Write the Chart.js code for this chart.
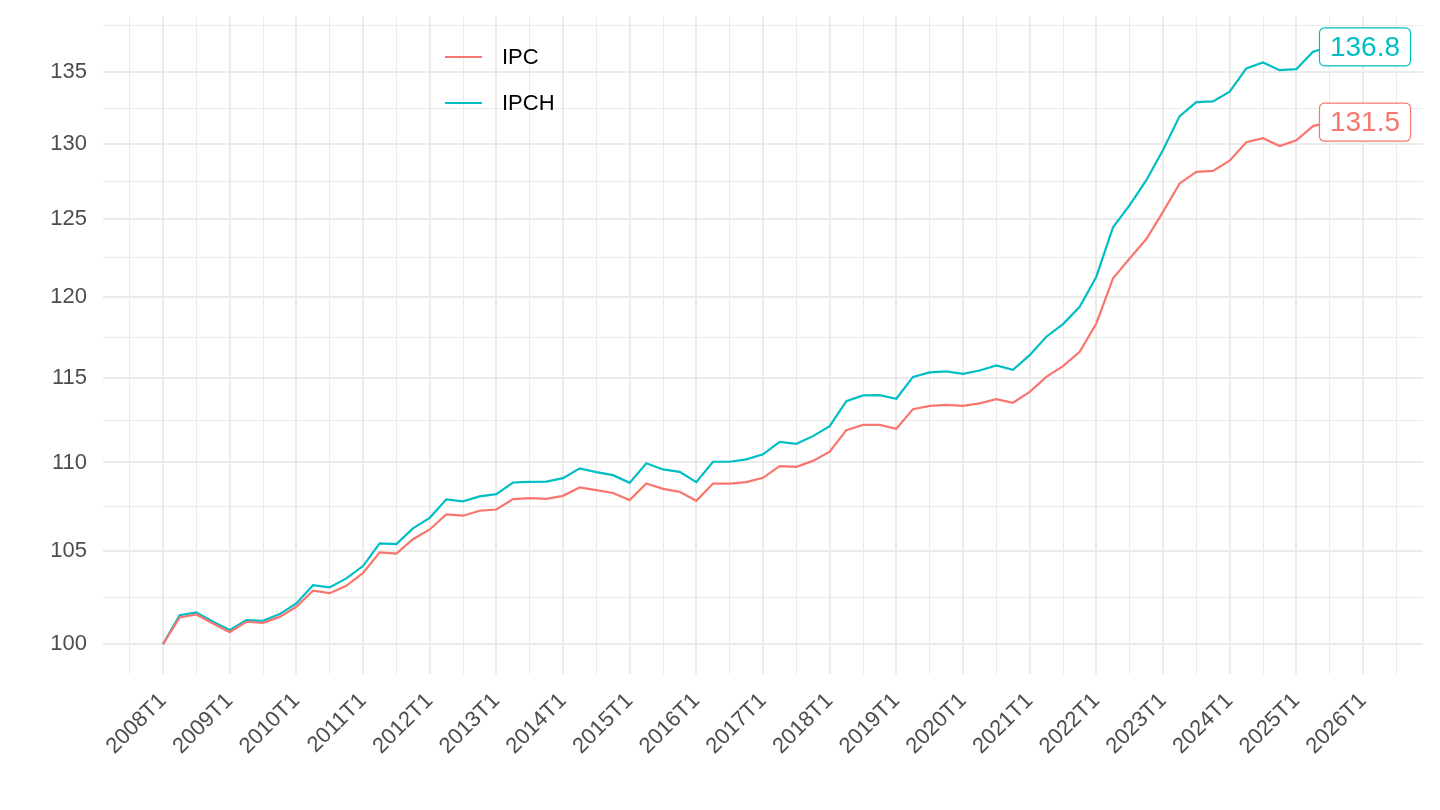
<!DOCTYPE html>
<html>
<head>
<meta charset="utf-8">
<title>IPC / IPCH</title>
<script src="https://cdn.jsdelivr.net/npm/chart.js@4.4.1/dist/chart.umd.min.js"></script>
<style>
    html, body { margin: 0; padding: 0; background: #ffffff; }
    #chart { display: block; }
</style>
</head>
<body>
<canvas id="chart" width="1440" height="810"></canvas>
<script>
// Indices base 100 = 2008T1, one value per quarter (2008T1 .. 2025T3)
var seriesNames = ['IPC', 'IPCH'];
var seriesColors = ['#F8766D', '#00BFC4'];

var ipc = [
    100.00, 101.41, 101.57, 101.09, 100.63, 101.18, 101.12, 101.44,
    101.98, 102.84, 102.71, 103.11, 103.81, 104.93, 104.87, 105.66,
    106.20, 107.04, 106.97, 107.25, 107.32, 107.91, 107.96, 107.92,
    108.09, 108.57, 108.42, 108.25, 107.85, 108.79, 108.49, 108.32,
    107.81, 108.79, 108.79, 108.87, 109.12, 109.79, 109.75, 110.09,
    110.62, 111.88, 112.19, 112.19, 111.96, 113.12, 113.31, 113.38,
    113.31, 113.46, 113.72, 113.50, 114.15, 115.05, 115.70, 116.57,
    118.32, 121.16, 122.42, 123.68, 125.46, 127.34, 128.12, 128.18,
    128.87, 130.13, 130.40, 129.86, 130.26, 131.23, 131.50
];

var ipch = [
    100.00, 101.53, 101.68, 101.18, 100.74, 101.27, 101.23, 101.59,
    102.16, 103.14, 103.02, 103.51, 104.18, 105.43, 105.39, 106.26,
    106.85, 107.89, 107.78, 108.06, 108.19, 108.85, 108.89, 108.90,
    109.10, 109.66, 109.44, 109.27, 108.83, 109.95, 109.60, 109.46,
    108.87, 110.04, 110.04, 110.18, 110.47, 111.20, 111.08, 111.53,
    112.12, 113.60, 113.94, 113.96, 113.74, 115.05, 115.32, 115.38,
    115.24, 115.44, 115.74, 115.48, 116.37, 117.50, 118.28, 119.36,
    121.26, 124.44, 125.90, 127.56, 129.59, 131.92, 132.89, 132.94,
    133.62, 135.26, 135.69, 135.14, 135.21, 136.45, 136.80
];

// one label per year, at each T1 quarter
var xTickLabels = [
    '2008T1', '2009T1', '2010T1', '2011T1', '2012T1', '2013T1', '2014T1',
    '2015T1', '2016T1', '2017T1', '2018T1', '2019T1', '2020T1', '2021T1',
    '2022T1', '2023T1', '2024T1', '2025T1', '2026T1'
];

var yTickValues = [100, 105, 110, 115, 120, 125, 130, 135];

// end labels sit on the last tick (2026T1)
var endLabelTick = '2026T1';

var quartersPerYear = 4;
var lastTickIndex = (xTickLabels.length - 1) * quartersPerYear;
var xPad = lastTickIndex * 0.05;

function toPoints(values) {
    return values.map(function (v, i) { return { x: i, y: v }; });
}

// minor y breaks: geometric midpoints (log scale), plus one past the top
var yMinor = [];
for (var k = 0; k < yTickValues.length - 1; k++) {
    yMinor.push(Math.sqrt(yTickValues[k] * yTickValues[k + 1]));
}
var yStep = yTickValues[1] / yTickValues[0];
var yTop = yTickValues[yTickValues.length - 1];
yMinor.push(Math.sqrt(yTop * yTop * yStep));

var allValues = ipc.concat(ipch);
var yLogMin = Math.log(Math.min.apply(null, allValues));
var yLogMax = Math.log(Math.max.apply(null, allValues));
var yLogPad = (yLogMax - yLogMin) * 0.05;

var textFont = 'Liberation Sans, Arial, Helvetica, sans-serif';
var gridColor = '#EBEBEB';

var legendPlugin = {
    id: 'insideLegend',
    afterDraw: function (chart) {
        var ctx = chart.ctx;
        var x0 = 445, y0 = 57, gap = 46;
        ctx.save();
        ctx.font = '22px ' + textFont;
        ctx.textBaseline = 'middle';
        ctx.textAlign = 'left';
        chart.data.datasets.forEach(function (ds, i) {
            var y = y0 + i * gap;
            ctx.strokeStyle = ds.borderColor;
            ctx.lineWidth = 2.2;
            ctx.beginPath();
            ctx.moveTo(x0, y);
            ctx.lineTo(x0 + 37, y);
            ctx.stroke();
            ctx.fillStyle = '#000000';
            ctx.fillText(ds.label, x0 + 57, y + 1);
        });
        ctx.restore();
    }
};

var endLabelPlugin = {
    id: 'endLabels',
    afterDatasetsDraw: function (chart) {
        var ctx = chart.ctx;
        var xScale = chart.scales.x;
        var yScale = chart.scales.y;
        var xVal = xTickLabels.indexOf(endLabelTick) * quartersPerYear;
        ctx.save();
        ctx.font = '28px ' + textFont;
        ctx.textBaseline = 'middle';
        ctx.textAlign = 'center';
        chart.data.datasets.forEach(function (ds) {
            var last = ds.data[ds.data.length - 1].y;
            var text = last.toFixed(1);
            var cx = xScale.getPixelForValue(xVal) + 2;
            var cy = yScale.getPixelForValue(last);
            var w = ctx.measureText(text).width + 21;
            var h = 38;
            ctx.beginPath();
            ctx.roundRect(cx - w / 2, cy - h / 2, w, h, 5);
            ctx.fillStyle = '#ffffff';
            ctx.fill();
            ctx.strokeStyle = ds.borderColor;
            ctx.lineWidth = 1.2;
            ctx.stroke();
            ctx.fillStyle = ds.borderColor;
            ctx.fillText(text, cx, cy + 1);
        });
        ctx.restore();
    }
};

var ctx = document.getElementById('chart').getContext('2d');

var chart = new Chart(ctx, {
    type: 'line',
    data: {
        datasets: [
            {
                label: seriesNames[0],
                data: toPoints(ipc),
                borderColor: seriesColors[0],
                borderWidth: 2.2,
                pointRadius: 0,
                tension: 0,
                fill: false
            },
            {
                label: seriesNames[1],
                data: toPoints(ipch),
                borderColor: seriesColors[1],
                borderWidth: 2.2,
                pointRadius: 0,
                tension: 0,
                fill: false
            }
        ]
    },
    options: {
        responsive: false,
        animation: false,
        devicePixelRatio: 1,
        layout: {
            padding: { top: 17, right: 17, left: 0, bottom: 0 }
        },
        plugins: {
            legend: { display: false },
            tooltip: { enabled: false },
            title: { display: false }
        },
        scales: {
            x: {
                type: 'linear',
                min: -xPad,
                max: lastTickIndex + xPad,
                border: { display: false },
                grid: {
                    drawTicks: false,
                    color: gridColor,
                    lineWidth: function (c) {
                        return c.tick && c.tick.value % quartersPerYear === 0 ? 2 : 1;
                    }
                },
                afterBuildTicks: function (scale) {
                    var ticks = [];
                    for (var v = -2; v <= lastTickIndex + 2; v += 2) {
                        ticks.push({ value: v });
                    }
                    scale.ticks = ticks;
                },
                afterFit: function (scale) {
                    scale.height = 136;
                    scale.paddingLeft = 0;
                    scale.paddingRight = 0;
                },
                ticks: {
                    autoSkip: false,
                    minRotation: 45,
                    maxRotation: 45,
                    padding: 14,
                    color: '#4D4D4D',
                    font: { family: textFont, size: 22 },
                    callback: function (value) {
                        return value % quartersPerYear === 0 ? xTickLabels[value / quartersPerYear] : '';
                    }
                }
            },
            y: {
                type: 'logarithmic',
                min: Math.exp(yLogMin - yLogPad),
                max: Math.exp(yLogMax + yLogPad),
                border: { display: false },
                grid: {
                    drawTicks: false,
                    color: gridColor,
                    lineWidth: function (c) {
                        return c.tick && yTickValues.indexOf(c.tick.value) >= 0 ? 2 : 1;
                    }
                },
                afterBuildTicks: function (scale) {
                    var ticks = yTickValues.concat(yMinor).sort(function (a, b) { return a - b; });
                    scale.ticks = ticks.map(function (v) { return { value: v }; });
                },
                afterFit: function (scale) {
                    scale.width = 103;
                    scale.paddingTop = 0;
                    scale.paddingBottom = 0;
                },
                ticks: {
                    padding: 16,
                    color: '#4D4D4D',
                    font: { family: textFont, size: 22 },
                    callback: function (value) {
                        return yTickValues.indexOf(value) >= 0 ? String(value) : '';
                    }
                }
            }
        }
    },
    plugins: [endLabelPlugin, legendPlugin]
});
</script>
</body>
</html>
